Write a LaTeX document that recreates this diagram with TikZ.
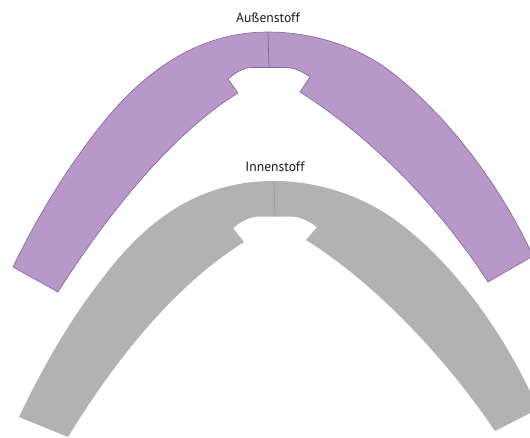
\documentclass[tikz,border=0pt]{standalone}
\usepackage{fontspec}
\setmainfont{PT Sans}
\definecolor{lila}{HTML}{B798C8}
\definecolor{lilaline}{HTML}{85629A}
\definecolor{grau}{HTML}{B2B2B2}
\definecolor{grauline}{HTML}{979797}
\tikzset{
  lilapiece/.style={fill=lila,draw=lilaline,line width=.6pt,line join=round},
  graupiece/.style={fill=grau,draw=none},
  seamlila/.style={draw=lilaline,line width=.7pt},
  seamgrau/.style={draw=grauline,line width=.6pt},
  piecelabel/.style={font=\fontsize{13.6}{15}\selectfont,text=black!90,inner sep=0pt}
}
\begin{document}
\begin{tikzpicture}[x=1pt,y=-1pt]
\useasboundingbox (0,0) rectangle (530,437);
\clip (0,0) rectangle (530,437);
% purple piece
\path[lilapiece] (13,267)
  .. controls (43,205) and (77,154) .. (107,118)
  .. controls (152,64) and (205,32) .. (268,32)
  .. controls (318,32) and (365,50) .. (395,75)
  .. controls (442,112) and (497,178) .. (533,256)
  -- (488,282)
  .. controls (435,200) and (365,133) .. (300,92)
  -- (310,77)
  .. controls (302,71.5) and (296,68) .. (286,67.5)
  -- (252,67.5)
  .. controls (242,68) and (235,73) .. (228,79)
  -- (238,93)
  .. controls (170,135) and (105,218) .. (58,292)
  -- cycle;
\draw[seamlila] (268,32) -- (269,67.5);
% grey piece
\path[graupiece] (19,417)
  .. controls (50,352) and (80,305) .. (113,265)
  .. controls (157,211) and (208,181) .. (274,181)
  .. controls (320,181) and (365,197) .. (398,222)
  .. controls (447,258) and (502,326) .. (538,409)
  -- (495,431)
  .. controls (440,350) and (370,280) .. (306,240)
  -- (317,227)
  .. controls (309,221.5) and (301,217) .. (292,216.5)
  -- (258,216.5)
  .. controls (248,217) and (241,222) .. (233,228)
  -- (244,242)
  .. controls (175,285) and (115,360) .. (68,437)
  -- cycle;
\draw[seamgrau] (274,181) -- (275,216.5);
\node[piecelabel] (aussen) at (268,17.5) {Außenstoff};
\node[piecelabel] (innen) at (275,167) {Innenstoff};
\end{tikzpicture}
\end{document}
